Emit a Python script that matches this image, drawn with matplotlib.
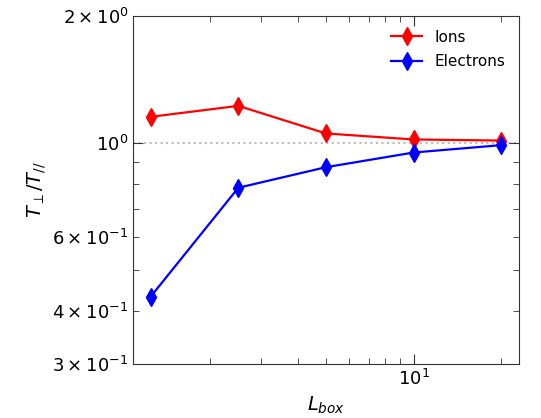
import matplotlib
matplotlib.use("Agg")
import matplotlib.pyplot as plt

L_box = [1.25, 2.5, 5, 10, 20]
ions = [1.154, 1.225, 1.054, 1.020, 1.014]
electrons = [0.433, 0.784, 0.877, 0.950, 0.989]

plt.rcParams['font.family'] = ['DejaVu Sans']
fig = plt.figure(figsize=(5.41, 4.18), dpi=100)
ax = fig.add_axes([0.246, 0.129, 0.713, 0.833])

ax.plot(L_box, ions, color='red', marker='d', ms=9, lw=1.6, label='Ions')
ax.plot(L_box, electrons, color='blue', marker='d', ms=9, lw=1.6, label='Electrons')
ax.axhline(1.0, color='#bbbbbb', ls=':', lw=1.5, zorder=0)

ax.set_xscale('log')
ax.set_yscale('log')
ax.set_ylim(0.3, 2.0)

ax.tick_params(which='both', direction='in', top=True, right=True, labelsize=13, color='#333333')
ax.tick_params(which='major', length=7)
ax.tick_params(which='minor', length=4)
for s in ax.spines.values():
    s.set_color('#333333')

ax.set_xlabel(r'$L_{box}$', fontsize=14)
ax.set_ylabel(r'$T_\perp/T_{//}$', fontsize=14, labelpad=3)
ax.legend(loc='upper right', frameon=False, fontsize=11, labelspacing=0.62)

fig.savefig('out.png', dpi=100)
